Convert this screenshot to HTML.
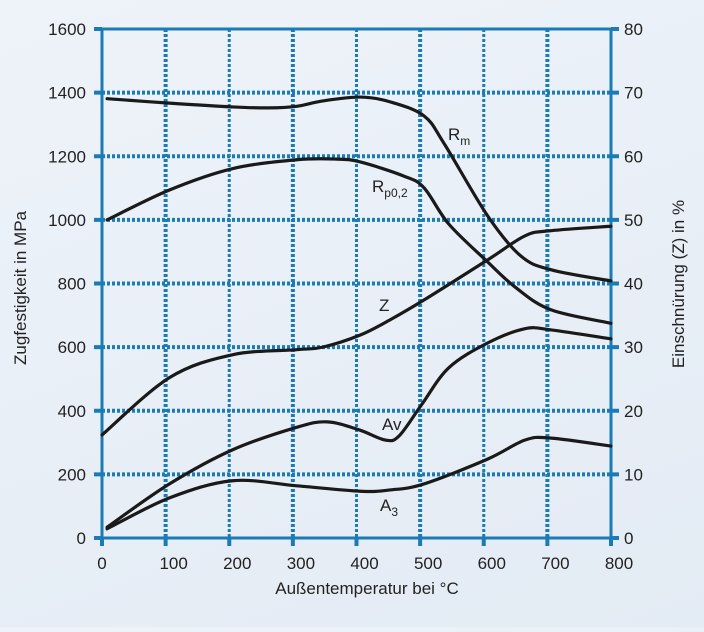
<!DOCTYPE html>
<html><head><meta charset="utf-8"><style>
html,body{margin:0;padding:0}
body{width:704px;height:627px;overflow:hidden;background:linear-gradient(160deg,#eef3f9,#e3ebf4);font-family:"Liberation Sans",sans-serif}
svg text{font-family:"Liberation Sans",sans-serif;fill:#222}
</style></head><body>
<svg id="c" width="704" height="627"></svg>
<script>
const xTicks=[0,100,200,300,400,500,600,700,800];
const yTicks=[0,200,400,600,800,1000,1200,1400,1600];
const y2Ticks=[0,10,20,30,40,50,60,70,80];
const rmT=[8,106,205,263,306,347,406,453,506,538,606,658,706,800];
const rmV=[1381,1367,1355,1352,1357,1374,1386,1371,1327,1239,1013,887,843,808];
const rpT=[8,106,205,306,369,406,474,506,545,606,651,706,800];
const rpV=[1000,1094,1161,1189,1191,1182,1138,1101,987,868,786,717,675];
const zT=[0,106,205,306,347,406,453,506,606,665,706,800];
const zV=[16.2,25.2,28.8,29.6,30,31.9,34.3,37.4,43.7,47.5,48.3,49];
const avT=[8,106,205,306,354,404,445,467,503,545,606,665,706,800];
const avV=[34,170,277,348,365,340,308,321,421,535,613,658,654,626];
const a3T=[8,106,205,306,406,453,506,606,665,706,800];
const a3V=[29,126,180,164,147,151,170,248,308,314,289];
const X0=102,X1=611,Y0=538,Y1=29;
const sx=t=>X0+(X1-X0)*t/800;
const sy=v=>Y0-(Y0-Y1)*v/1600;
const sy2=v=>Y0-(Y0-Y1)*v/80;
const svg=document.getElementById('c');
const NS='http://www.w3.org/2000/svg';
function mk(tag,attrs,txt){const e=document.createElementNS(NS,tag);for(const k in attrs)e.setAttribute(k,attrs[k]);if(txt!==undefined)e.textContent=txt;svg.appendChild(e);return e;}
const BLUE='#1a7bb5';
// grid
xTicks.forEach((t,i)=>{if(i==0||i==8)return;const l=mk('line',{x1:sx(t),x2:sx(t),y1:Y1,y2:Y0,stroke:BLUE,'stroke-width':(i%2? 4:3),'stroke-dasharray':'3 2'});

});
yTicks.forEach((v,i)=>{if(i==0||i==8)return;const l=mk('line',{x1:X0,x2:X1,y1:sy(v),y2:sy(v),stroke:BLUE,'stroke-width':4,'stroke-dasharray':'3 2'});

});
const fr=mk('rect',{x:X0,y:Y1,width:X1-X0,height:Y0-Y1,fill:'none',stroke:BLUE,'stroke-width':3});


// ticks and labels
xTicks.forEach(t=>{const tk=mk('line',{x1:sx(t),x2:sx(t),y1:Y0,y2:Y0+8,stroke:BLUE,'stroke-width':4});


const tx=mk('text',{x:sx(t)+(t==0?0:(t==800?8:8)),y:569,'font-size':17,'text-anchor':'middle'},String(t));

});
yTicks.forEach(v=>{const tk=mk('line',{x1:X0-8,x2:X0,y1:sy(v),y2:sy(v),stroke:BLUE,'stroke-width':4});


const tx=mk('text',{x:86,y:sy(v)+6,'font-size':17,'text-anchor':'end'},String(v));

});
y2Ticks.forEach(v=>{const tk=mk('line',{x1:X1,x2:X1+8,y1:sy2(v),y2:sy2(v),stroke:BLUE,'stroke-width':4});


const tx=mk('text',{x:624,y:sy2(v)+6,'font-size':17},String(v));

});
let t1=mk('text',{x:367,y:594,'font-size':17,'text-anchor':'middle'},'Außentemperatur bei °C');


let t2=mk('text',{x:0,y:0,'font-size':17,'text-anchor':'middle',transform:'translate(26,288) rotate(-90)'},'Zugfestigkeit in MPa');


let t3=mk('text',{x:0,y:0,'font-size':17,'text-anchor':'middle',transform:'translate(684,284) rotate(-90)'},'Einschnürung (Z) in %');


function smooth(p){let d='M'+p[0][0]+','+p[0][1];for(let i=0;i<p.length-1;i++){const a=p[i-1]||p[i],b=p[i],c=p[i+1],e=p[i+2]||c;
d+=' C'+(b[0]+(c[0]-a[0])/6)+','+(b[1]+(c[1]-a[1])/6)+' '+(c[0]-(e[0]-b[0])/6)+','+(c[1]-(e[1]-b[1])/6)+' '+c[0]+','+c[1];}return d;}
function series(T,V,ys,name){const p=T.map((t,i)=>[sx(t),ys(V[i])]);const e=mk('path',{d:smooth(p),fill:'none',stroke:'#1a1a1a','stroke-width':3.2,'stroke-linecap':'round'});

}
series(rmT,rmV,sy,'rm-curve');
series(rpT,rpV,sy,'rp02-curve');
series(zT,zV,sy2,'z-curve');
series(avT,avV,sy,'av-curve');
series(a3T,a3V,sy,'a3-curve');
function lab(x,y,main,sub,name){const e=mk('text',{x:x,y:y,'font-size':17});e.innerHTML=main+(sub?'<tspan font-size="12" dy="5">'+sub+'</tspan>':'');

}
lab(448,140,'R','m','rm-label');
lab(372,192,'R','p0,2','rp02-label');
lab(379,311,'Z','','z-label');
lab(382,430,'Av','','av-label');
lab(380,511,'A','3','a3-label');
</script>
</body></html>
